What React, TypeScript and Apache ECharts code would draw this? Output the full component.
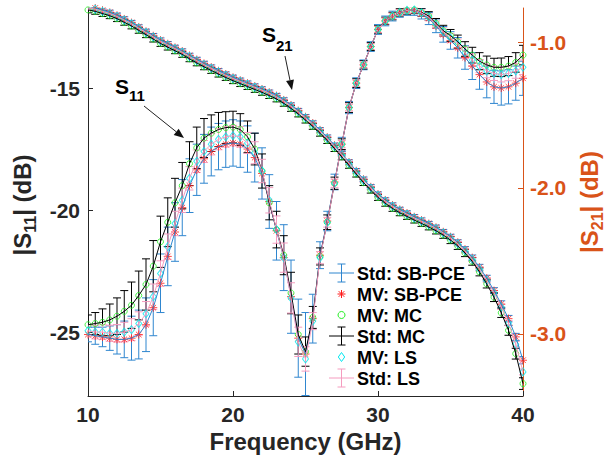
import React, { useEffect, useRef } from 'react';
import * as echarts from 'echarts';

// ---------------- data ----------------
const FREQ_GHZ: number[] = Array.from({ length: 61 }, (_, i) => 10 + i * 0.5);

const X_TICKS = [10, 20, 30, 40];
const S11_TICKS = [-25, -20, -15];
const S21_TICKS = [-3, -2, -1];

// |S11| (dB), left axis
const S11_MV_SBPCE = [
  -25.1, -25.15, -25.2, -25.25, -25.3, -25.3, -25.25, -25.1, -24.7, -24.0,
  -23.0, -21.9, -20.9, -19.9, -19.0, -18.35, -17.9, -17.6, -17.4, -17.3,
  -17.25, -17.3, -17.5, -17.85, -18.5, -19.65, -20.85, -21.95, -23.55, -25.25,
  -25.9, -24.45, -21.85, -20.45, -18.85, -17.3, -15.8, -14.8, -14.05, -13.3,
  -12.6, -12.25, -12.05, -11.9, -11.82, -11.82, -11.95, -12.15, -12.45, -12.8,
  -13.05, -13.35, -13.75, -14.1, -14.45, -14.75, -14.95, -15.0, -14.95, -14.8,
  -14.6,
];
const S11_MV_MC = [
  -24.7, -24.65, -24.6, -24.5, -24.35, -24.15, -23.9, -23.5, -23.05, -22.3,
  -21.3, -20.5, -19.7, -19.0, -18.1, -17.45, -17.05, -16.85, -16.7, -16.62,
  -16.6, -16.7, -17.0, -17.5, -18.4, -19.7, -20.8, -21.85, -23.4, -25.1,
  -25.8, -24.4, -21.9, -20.5, -18.9, -17.3, -15.8, -14.8, -14.05, -13.3,
  -12.6, -12.25, -12.05, -11.9, -11.82, -11.8, -11.9, -12.05, -12.35, -12.65,
  -12.85, -13.1, -13.4, -13.65, -13.9, -14.05, -14.15, -14.15, -14.1, -13.95,
  -13.65,
];
const S11_MV_LS = [
  -24.95, -25.0, -25.0, -25.05, -25.05, -25.0, -24.9, -24.65, -24.25, -23.55,
  -22.6, -21.5, -20.55, -19.6, -18.7, -18.0, -17.6, -17.3, -17.1, -17.0,
  -16.95, -17.0, -17.25, -17.65, -18.4, -19.6, -20.8, -21.95, -23.6, -25.4,
  -26.1, -24.55, -21.95, -20.5, -18.9, -17.3, -15.8, -14.8, -14.05, -13.3,
  -12.6, -12.25, -12.05, -11.9, -11.82, -11.8, -11.92, -12.1, -12.4, -12.7,
  -12.95, -13.2, -13.55, -13.85, -14.1, -14.3, -14.4, -14.45, -14.4, -14.3,
  -14.15,
];
const S11_STD_SBPCE = [
  0.3, 0.35, 0.4, 0.5, 0.6, 0.75, 0.9, 1.0, 1.1, 1.15,
  1.2, 1.2, 1.2, 1.15, 1.1, 1.05, 1.0, 1.0, 0.95, 0.95,
  0.95, 0.95, 0.95, 1.0, 1.05, 1.1, 1.2, 1.35, 1.5, 1.6,
  1.7, 1.0, 0.55, 0.4, 0.32, 0.28, 0.25, 0.22, 0.2, 0.2,
  0.2, 0.2, 0.2, 0.2, 0.2, 0.2, 0.22, 0.25, 0.28, 0.32,
  0.36, 0.42, 0.48, 0.55, 0.6, 0.65, 0.68, 0.7, 0.7, 0.7,
  0.7,
];
const S11_STD_MC = [
  0.4, 0.45, 0.55, 0.65, 0.75, 0.85, 0.95, 1.0, 1.05, 1.05,
  1.05, 1.0, 1.0, 0.95, 0.9, 0.85, 0.8, 0.75, 0.7, 0.65,
  0.65, 0.65, 0.65, 0.65, 0.7, 0.7, 0.75, 0.8, 0.85, 0.8,
  0.6, 0.45, 0.35, 0.3, 0.25, 0.22, 0.2, 0.18, 0.17, 0.16,
  0.15, 0.15, 0.15, 0.15, 0.15, 0.15, 0.17, 0.18, 0.2, 0.22,
  0.25, 0.27, 0.3, 0.32, 0.35, 0.36, 0.37, 0.38, 0.39, 0.4,
  0.4,
];
const S11_STD_LS = [
  0.25, 0.28, 0.3, 0.33, 0.36, 0.4, 0.45, 0.48, 0.5, 0.52,
  0.52, 0.52, 0.5, 0.5, 0.48, 0.46, 0.45, 0.44, 0.43, 0.42,
  0.42, 0.42, 0.43, 0.45, 0.48, 0.52, 0.56, 0.6, 0.62, 0.6,
  0.5, 0.35, 0.25, 0.2, 0.17, 0.15, 0.14, 0.13, 0.12, 0.12,
  0.12, 0.12, 0.12, 0.12, 0.12, 0.12, 0.13, 0.14, 0.15, 0.17,
  0.19, 0.21, 0.23, 0.25, 0.27, 0.28, 0.29, 0.3, 0.3, 0.3,
  0.3,
];

// |S21| (dB), right axis
const S21_MV_SBPCE = [
  -0.757, -0.767, -0.782, -0.797, -0.817, -0.842, -0.867, -0.897, -0.927, -0.957,
  -0.987, -1.012, -1.037, -1.062, -1.092, -1.12, -1.147, -1.172, -1.197, -1.22,
  -1.242, -1.262, -1.282, -1.302, -1.322, -1.344, -1.367, -1.397, -1.432, -1.47,
  -1.512, -1.555, -1.602, -1.652, -1.707, -1.764, -1.822, -1.882, -1.94, -1.992,
  -2.042, -2.082, -2.117, -2.147, -2.172, -2.197, -2.22, -2.244, -2.27, -2.3,
  -2.334, -2.372, -2.42, -2.477, -2.543, -2.618, -2.703, -2.795, -2.895, -3.02,
  -3.18,
];
const S21_MV_MC = [
  -0.78, -0.79, -0.805, -0.82, -0.84, -0.865, -0.89, -0.92, -0.95, -0.98,
  -1.01, -1.035, -1.06, -1.085, -1.115, -1.143, -1.17, -1.195, -1.22, -1.243,
  -1.265, -1.285, -1.305, -1.325, -1.345, -1.367, -1.39, -1.42, -1.455, -1.493,
  -1.535, -1.578, -1.625, -1.675, -1.73, -1.787, -1.845, -1.905, -1.963, -2.015,
  -2.065, -2.105, -2.14, -2.17, -2.195, -2.22, -2.243, -2.267, -2.293, -2.323,
  -2.357, -2.397, -2.445, -2.503, -2.575, -2.657, -2.748, -2.855, -2.975, -3.135,
  -3.34,
];
const S21_MV_LS = [
  -0.765, -0.775, -0.79, -0.805, -0.825, -0.85, -0.875, -0.905, -0.935, -0.965,
  -0.995, -1.02, -1.045, -1.07, -1.1, -1.128, -1.155, -1.18, -1.205, -1.228,
  -1.25, -1.27, -1.29, -1.31, -1.33, -1.352, -1.375, -1.405, -1.44, -1.478,
  -1.52, -1.563, -1.61, -1.66, -1.715, -1.772, -1.83, -1.89, -1.948, -2.0,
  -2.05, -2.09, -2.125, -2.155, -2.18, -2.205, -2.228, -2.252, -2.278, -2.308,
  -2.342, -2.382, -2.43, -2.488, -2.555, -2.632, -2.718, -2.815, -2.925, -3.07,
  -3.26,
];
const S21_STD_SBPCE = [
  0.015, 0.015, 0.015, 0.015, 0.015, 0.015, 0.015, 0.015, 0.015, 0.015,
  0.015, 0.015, 0.015, 0.015, 0.015, 0.015, 0.015, 0.015, 0.015, 0.015,
  0.015, 0.015, 0.015, 0.015, 0.015, 0.015, 0.015, 0.015, 0.015, 0.015,
  0.015, 0.015, 0.015, 0.015, 0.015, 0.015, 0.015, 0.015, 0.015, 0.015,
  0.015, 0.015, 0.015, 0.015, 0.015, 0.015, 0.015, 0.015, 0.016, 0.016,
  0.017, 0.017, 0.018, 0.018, 0.02, 0.02, 0.02, 0.022, 0.022, 0.024,
  0.025,
];
const S21_STD_MC = [
  0.02, 0.02, 0.02, 0.02, 0.02, 0.02, 0.02, 0.02, 0.02, 0.02,
  0.02, 0.02, 0.02, 0.02, 0.02, 0.02, 0.02, 0.02, 0.02, 0.02,
  0.02, 0.02, 0.02, 0.02, 0.02, 0.02, 0.02, 0.02, 0.02, 0.02,
  0.02, 0.02, 0.02, 0.02, 0.02, 0.02, 0.02, 0.02, 0.02, 0.02,
  0.02, 0.02, 0.02, 0.02, 0.02, 0.02, 0.02, 0.02, 0.022, 0.022,
  0.024, 0.024, 0.025, 0.026, 0.027, 0.028, 0.03, 0.032, 0.034, 0.037,
  0.04,
];
const S21_STD_LS = [
  0.012, 0.012, 0.012, 0.012, 0.012, 0.012, 0.012, 0.012, 0.012, 0.012,
  0.012, 0.012, 0.012, 0.012, 0.012, 0.012, 0.012, 0.012, 0.012, 0.012,
  0.012, 0.012, 0.012, 0.012, 0.012, 0.012, 0.012, 0.012, 0.012, 0.012,
  0.012, 0.012, 0.012, 0.012, 0.012, 0.012, 0.012, 0.012, 0.012, 0.012,
  0.012, 0.012, 0.012, 0.012, 0.012, 0.012, 0.012, 0.012, 0.012, 0.013,
  0.013, 0.014, 0.014, 0.015, 0.015, 0.016, 0.016, 0.017, 0.018, 0.019,
  0.02,
];

const LEGEND_LABELS = ['Std: SB-PCE', 'MV: SB-PCE', 'MV: MC', 'Std: MC', 'MV: LS', 'Std: LS'];

// ---------------- styling ----------------
const FONT = '"Liberation Sans", Arial, Helvetica, sans-serif';
const AXIS_DARK = '#262626';
const ORANGE = '#D95319';
const C_BLUE = '#2f86cf';
const C_RED = '#ff1a1a';
const C_GREEN = '#22ee22';
const C_BLACK = '#000000';
const C_CYAN = '#00e8f0';
const C_PINK = '#f59cbf';

const GRID = { left: 88, top: 8, right: 82, bottom: 68 };
const ASTERISK = 'path://M4,0L4,8M0,4L8,4M1.2,1.2L6.8,6.8M1.2,6.8L6.8,1.2';

function measure(text: string, size: number): number {
  const c = document.createElement('canvas').getContext('2d');
  if (!c) return text.length * size * 0.6;
  c.font = `bold ${size}px "Liberation Sans"`;
  return c.measureText(text).width;
}

function errorBarSeries(yAxisIndex: number, mean: number[], std: number[], color: string) {
  return {
    type: 'custom',
    xAxisIndex: 0,
    yAxisIndex,
    clip: true,
    silent: true,
    data: FREQ_GHZ.map((f, i) => [f, mean[i], std[i]]),
    encode: { x: 0, y: 1 },
    renderItem: (_params: any, api: any) => {
      const x = api.value(0);
      const y = api.value(1);
      const s = api.value(2);
      const p1 = api.coord([x, y + s]);
      const p2 = api.coord([x, y - s]);
      const hw = 4;
      const style = { stroke: color, lineWidth: 1, fill: null };
      return {
        type: 'group',
        children: [
          { type: 'line', shape: { x1: p1[0], y1: p1[1], x2: p2[0], y2: p2[1] }, style },
          { type: 'line', shape: { x1: p1[0] - hw, y1: p1[1], x2: p1[0] + hw, y2: p1[1] }, style },
          { type: 'line', shape: { x1: p2[0] - hw, y1: p2[1], x2: p2[0] + hw, y2: p2[1] }, style },
        ],
      };
    },
  };
}

function lineSeries(yAxisIndex: number, mean: number[], color: string) {
  return {
    type: 'line',
    yAxisIndex,
    silent: true,
    symbol: 'none',
    showSymbol: false,
    data: FREQ_GHZ.map((f, i) => [f, mean[i]]),
    lineStyle: { color, width: 1 },
    itemStyle: { color },
  };
}

function markerSeries(yAxisIndex: number, mean: number[], color: string, symbol: string, size: any) {
  return {
    type: 'scatter',
    yAxisIndex,
    silent: true,
    symbol,
    symbolSize: size,
    data: FREQ_GHZ.map((f, i) => [f, mean[i]]),
    itemStyle: { color: 'rgba(0,0,0,0)', borderColor: color, borderWidth: 1 },
  };
}

function seriesSet(yAxisIndex: number, d: any) {
  return [
    errorBarSeries(yAxisIndex, d.pce, d.pceStd, C_BLUE),
    lineSeries(yAxisIndex, d.pce, C_BLUE),
    markerSeries(yAxisIndex, d.pce, C_RED, ASTERISK, 8),
    markerSeries(yAxisIndex, d.mc, C_GREEN, 'circle', 6),
    errorBarSeries(yAxisIndex, d.mc, d.mcStd, C_BLACK),
    lineSeries(yAxisIndex, d.mc, C_BLACK),
    markerSeries(yAxisIndex, d.ls, C_CYAN, 'diamond', [6, 8]),
    errorBarSeries(yAxisIndex, d.ls, d.lsStd, C_PINK),
    lineSeries(yAxisIndex, d.ls, C_PINK),
  ];
}

function txt(text: string, x: number, y: number, size: number, color: string, align = 'left', valign = 'middle') {
  return {
    type: 'text',
    x,
    y,
    silent: true,
    style: {
      text,
      fill: color,
      fontSize: size,
      fontWeight: 'bold',
      fontFamily: FONT,
      align,
      verticalAlign: valign,
      textAlign: align,
      textVerticalAlign: valign,
    },
  };
}

function rotatedTitle(cx: number, cy: number, main1: string, sub: string, main2: string, color: string) {
  const fs = 24;
  const fsSub = 16;
  const w1 = measure(main1, fs);
  const w2 = measure(sub, fsSub);
  const w3 = measure(main2, fs);
  const total = w1 + w2 + w3;
  const x0 = -total / 2;
  return {
    type: 'group',
    x: cx,
    y: cy,
    rotation: Math.PI / 2,
    silent: true,
    children: [
      txt(main1, x0, 0, fs, color),
      txt(sub, x0 + w1, 8, fsSub, color),
      txt(main2, x0 + w1 + w2, 0, fs, color),
    ],
  };
}

function arrow(x1: number, y1: number, x2: number, y2: number) {
  const dx = x2 - x1;
  const dy = y2 - y1;
  const len = Math.sqrt(dx * dx + dy * dy);
  const ux = dx / len;
  const uy = dy / len;
  const hl = 10;
  const hw = 4;
  const bx = x2 - ux * hl;
  const by = y2 - uy * hl;
  return [
    { type: 'line', silent: true, shape: { x1, y1, x2: bx, y2: by }, style: { stroke: '#222', lineWidth: 1 } },
    {
      type: 'polygon',
      silent: true,
      shape: { points: [[x2, y2], [bx - uy * hw, by + ux * hw], [bx + uy * hw, by - ux * hw]] },
      style: { fill: '#111' },
    },
  ];
}

function legendGraphics() {
  const x0 = 329;
  const x1 = 354;
  const cx = 341.5;
  const y0 = 273;
  const dy = 21;
  const els: any[] = [];
  const kinds = ['eb', 'ast', 'circ', 'eb', 'dia', 'eb'];
  const colors = [C_BLUE, C_RED, C_GREEN, C_BLACK, C_CYAN, C_PINK];
  LEGEND_LABELS.forEach((label, i) => {
    const y = y0 + i * dy;
    const col = colors[i];
    const st = { stroke: col, lineWidth: 1, fill: null };
    if (kinds[i] === 'eb') {
      els.push({ type: 'line', silent: true, shape: { x1: x0, y1: y, x2: x1, y2: y }, style: st });
      els.push({ type: 'line', silent: true, shape: { x1: cx, y1: y - 9, x2: cx, y2: y + 9 }, style: st });
      els.push({ type: 'line', silent: true, shape: { x1: cx - 4, y1: y - 9, x2: cx + 4, y2: y - 9 }, style: st });
      els.push({ type: 'line', silent: true, shape: { x1: cx - 4, y1: y + 9, x2: cx + 4, y2: y + 9 }, style: st });
    } else if (kinds[i] === 'ast') {
      const r = 4;
      const d = 2.8;
      els.push({ type: 'line', silent: true, shape: { x1: cx, y1: y - r, x2: cx, y2: y + r }, style: st });
      els.push({ type: 'line', silent: true, shape: { x1: cx - r, y1: y, x2: cx + r, y2: y }, style: st });
      els.push({ type: 'line', silent: true, shape: { x1: cx - d, y1: y - d, x2: cx + d, y2: y + d }, style: st });
      els.push({ type: 'line', silent: true, shape: { x1: cx - d, y1: y + d, x2: cx + d, y2: y - d }, style: st });
    } else if (kinds[i] === 'circ') {
      els.push({ type: 'circle', silent: true, shape: { cx, cy: y, r: 3.5 }, style: st });
    } else {
      els.push({
        type: 'polygon',
        silent: true,
        shape: { points: [[cx, y - 4.5], [cx + 3.2, y], [cx, y + 4.5], [cx - 3.2, y]] },
        style: st,
      });
    }
    els.push(txt(label, 357, y + 1, 18, '#000'));
  });
  return els;
}

export default function App() {
  const ref = useRef<HTMLDivElement>(null);
  useEffect(() => {
    if (!ref.current) return;
    const chart = echarts.init(ref.current, undefined, { renderer: 'svg' });
    const s11 = {
      pce: S11_MV_SBPCE, mc: S11_MV_MC, ls: S11_MV_LS,
      pceStd: S11_STD_SBPCE, mcStd: S11_STD_MC, lsStd: S11_STD_LS,
    };
    const s21 = {
      pce: S21_MV_SBPCE, mc: S21_MV_MC, ls: S21_MV_LS,
      pceStd: S21_STD_SBPCE, mcStd: S21_STD_MC, lsStd: S21_STD_LS,
    };
    const option: any = {
      animation: false,
      backgroundColor: '#ffffff',
      grid: { ...GRID, containLabel: false },
      xAxis: {
        type: 'value',
        min: 10,
        max: 40,
        interval: 10,
        name: 'Frequency (GHz)',
        nameLocation: 'middle',
        nameGap: 32,
        nameTextStyle: { fontSize: 24, fontWeight: 'bold', fontFamily: FONT, color: AXIS_DARK },
        axisLine: { show: true, onZero: false, lineStyle: { color: AXIS_DARK, width: 1 } },
        axisTick: { show: true, inside: true, length: 5, lineStyle: { color: AXIS_DARK } },
        axisLabel: {
          show: true, margin: 8, fontSize: 21, fontWeight: 'bold', fontFamily: FONT, color: AXIS_DARK,
          customValues: X_TICKS,
        },
        splitLine: { show: false },
      },
      yAxis: [
        {
          type: 'value',
          position: 'left',
          min: -27.62,
          max: -11.72,
          axisLine: { show: true, onZero: false, lineStyle: { color: AXIS_DARK, width: 1 } },
          axisTick: { show: true, inside: true, length: 5, customValues: S11_TICKS, lineStyle: { color: AXIS_DARK } },
          axisLabel: {
            show: true, margin: 8, fontSize: 21, fontWeight: 'bold', fontFamily: FONT, color: AXIS_DARK,
            customValues: S11_TICKS,
          },
          splitLine: { show: false },
        },
        {
          type: 'value',
          position: 'right',
          min: -3.425,
          max: -0.767,
          axisLine: { show: true, onZero: false, lineStyle: { color: ORANGE, width: 1 } },
          axisTick: { show: true, inside: true, length: 5, customValues: S21_TICKS, lineStyle: { color: ORANGE } },
          axisLabel: {
            show: true, margin: 7, fontSize: 21, fontWeight: 'bold', fontFamily: FONT, color: ORANGE,
            customValues: S21_TICKS,
            formatter: (v: number) => v.toFixed(1),
          },
          splitLine: { show: false },
        },
      ],
      series: [...seriesSet(0, s11), ...seriesSet(1, s21)],
      graphic: [
        rotatedTitle(22, 205, '|S', '11', '| (dB)', AXIS_DARK),
        rotatedTitle(589, 202, '|S', '21', '| (dB)', ORANGE),
        txt('S', 262, 34, 21, '#000'),
        txt('21', 276, 45, 15, '#000'),
        txt('S', 115, 86, 21, '#000'),
        txt('11', 129, 95, 15, '#000'),
        ...arrow(285, 56, 292, 90),
        ...arrow(144, 106, 184, 138),
        ...legendGraphics(),
      ],
    };
    chart.setOption(option);
    return () => chart.dispose();
  }, []);
  return (
    <div
      ref={ref}
      style={{ position: 'absolute', left: 0, top: 0, width: 605, height: 464, background: '#fff' }}
    />
  );
}
